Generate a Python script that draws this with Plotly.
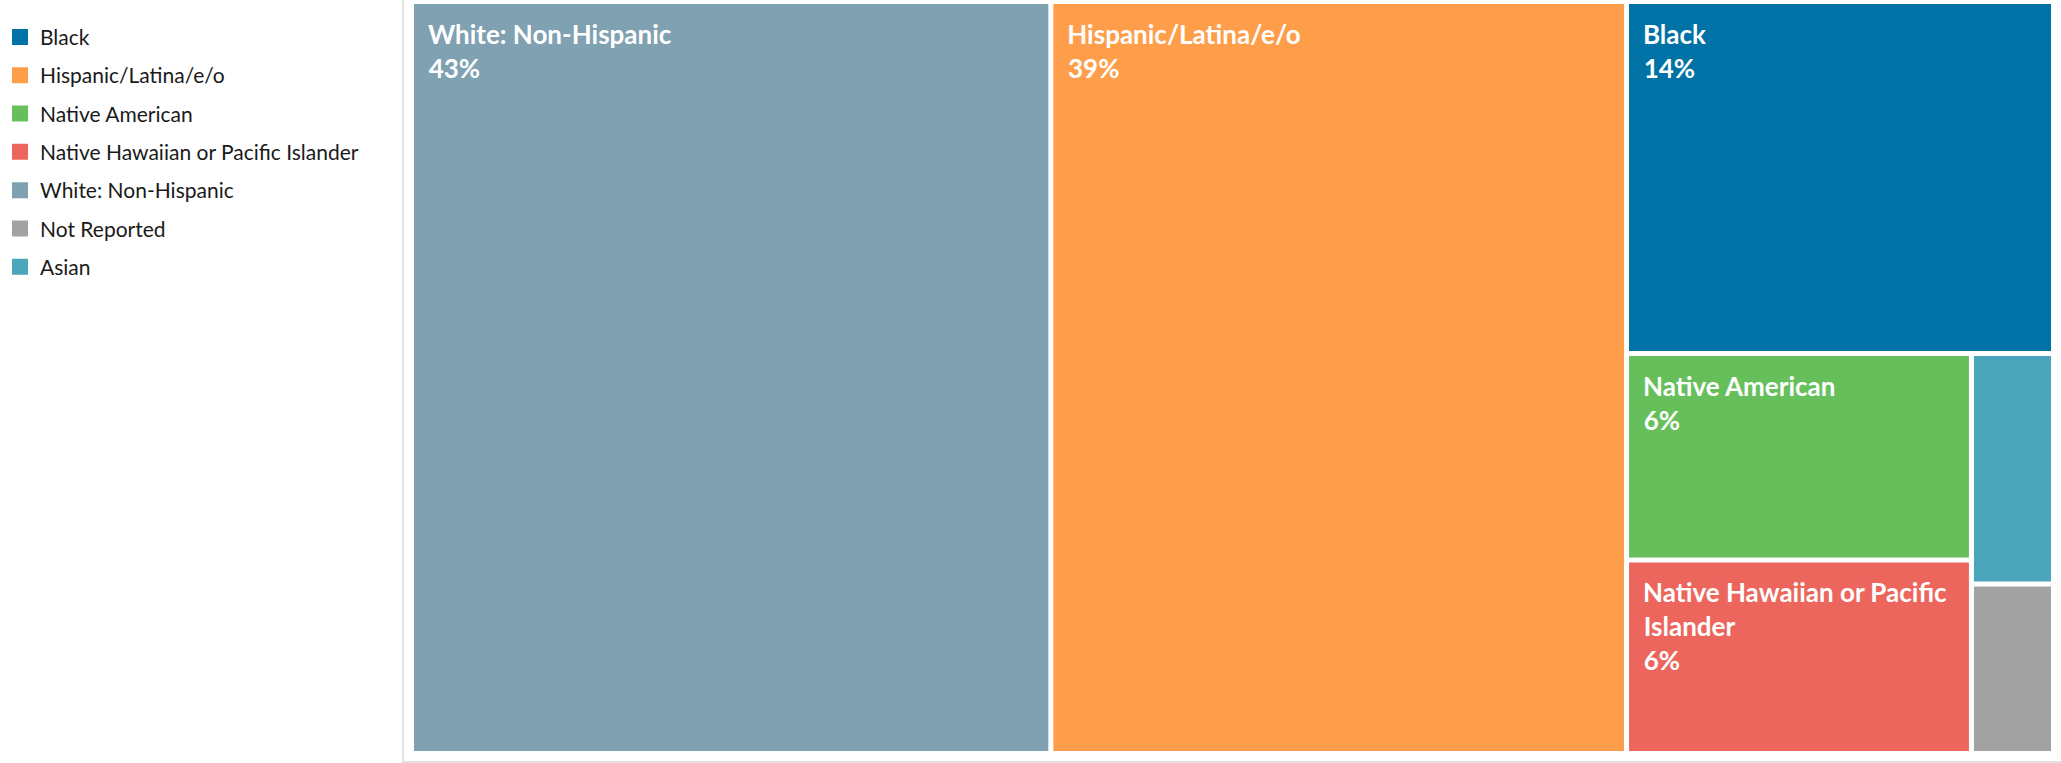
import plotly.graph_objects as go

# Share of respondents by race/ethnicity (area ~ value; labels are the shown percentages)
categories = [
    "White: Non-Hispanic", "Hispanic/Latina/e/o", "Black", "Native American",
    "Native Hawaiian or Pacific Islander", "Asian", "Not Reported",
]
values = [43.2, 38.9, 13.5, 6.4, 6.0, 1.7, 1.25]
pct_labels = ["43%", "39%", "14%", "6%", "6%", "2%", "1%"]
display_lines = [
    ["White: Non-Hispanic"], ["Hispanic/Latina/e/o"], ["Black"], ["Native American"],
    ["Native Hawaiian or Pacific", "Islander"], ["Asian"], ["Not Reported"],
]

legend_order = [
    "Black", "Hispanic/Latina/e/o", "Native American",
    "Native Hawaiian or Pacific Islander", "White: Non-Hispanic",
    "Not Reported", "Asian",
]

colors = {
    "White: Non-Hispanic": "#7fa1b2",
    "Hispanic/Latina/e/o": "#ff9e4a",
    "Black": "#0072a5",
    "Native American": "#67bf5c",
    "Native Hawaiian or Pacific Islander": "#ed665d",
    "Asian": "#4ba5bb",
    "Not Reported": "#a2a2a2",
}

W, H = 2061, 763

# Tableau-style label inset: a tall non-breaking space on the first line pushes
# the text down, leading spaces on every line push it right.
FIRST = ("<span style='font-size:39px'>&nbsp;</span>"
         "<span style='font-size:10px'>&nbsp;</span>")
INDENT = "&nbsp;&nbsp;"


def cell_text(lines, pct):
    out = [FIRST + lines[0]] + [INDENT + ln for ln in lines[1:]] + [INDENT + pct]
    return "<br>".join(out)


fig = go.Figure()

fig.add_trace(go.Treemap(
    labels=categories,
    parents=[""] * len(categories),
    values=values,
    text=[cell_text(l, p) for l, p in zip(display_lines, pct_labels)],
    customdata=pct_labels,
    texttemplate="%{text}",
    textposition="top left",
    textfont=dict(family="Lato", size=26, color="white", weight="bold"),
    marker=dict(colors=[colors[c] for c in categories],
                line=dict(color="white", width=2),
                pad=dict(t=0, l=0, r=0, b=0)),
    sort=True,
    tiling=dict(packing="squarify", squarifyratio=1),
    pathbar=dict(visible=False),
    domain=dict(x=[413 / W, 2052 / W], y=[1 - 752 / H, 1 - 3 / H]),
    hovertemplate="%{label}: %{customdata}<extra></extra>",
))

# legend swatches (treemap has no legend of its own)
for name in legend_order:
    fig.add_trace(go.Scatter(
        x=[None], y=[None], mode="markers", name=name,
        legendgroup=name,
        marker=dict(symbol="square", size=16, color=colors[name]),
    ))

fig.update_layout(
    width=W, height=H,
    margin=dict(l=0, r=0, t=0, b=0, autoexpand=False),
    paper_bgcolor="white",
    plot_bgcolor="white",
    font=dict(family="Lato", color="#222"),
    xaxis=dict(visible=False),
    yaxis=dict(visible=False),
    showlegend=True,
    legend=dict(
        x=0, y=0.978, xanchor="left", yanchor="top",
        font=dict(family="Lato", size=21, color="#1a1a1a"),
        tracegroupgap=8,
        traceorder="grouped",
        bgcolor="rgba(0,0,0,0)",
    ),
    uniformtext=dict(minsize=26, mode="hide"),
    shapes=[dict(
        type="rect", xref="paper", yref="paper",
        x0=403 / W, x1=1.01, y0=1 / H, y1=1.01,
        line=dict(color="#e0e0e0", width=2),
        layer="below",
    )],
)

fig.write_html("out.html", config={"displayModeBar": False},
               post_script="document.body.style.margin = '0';")
